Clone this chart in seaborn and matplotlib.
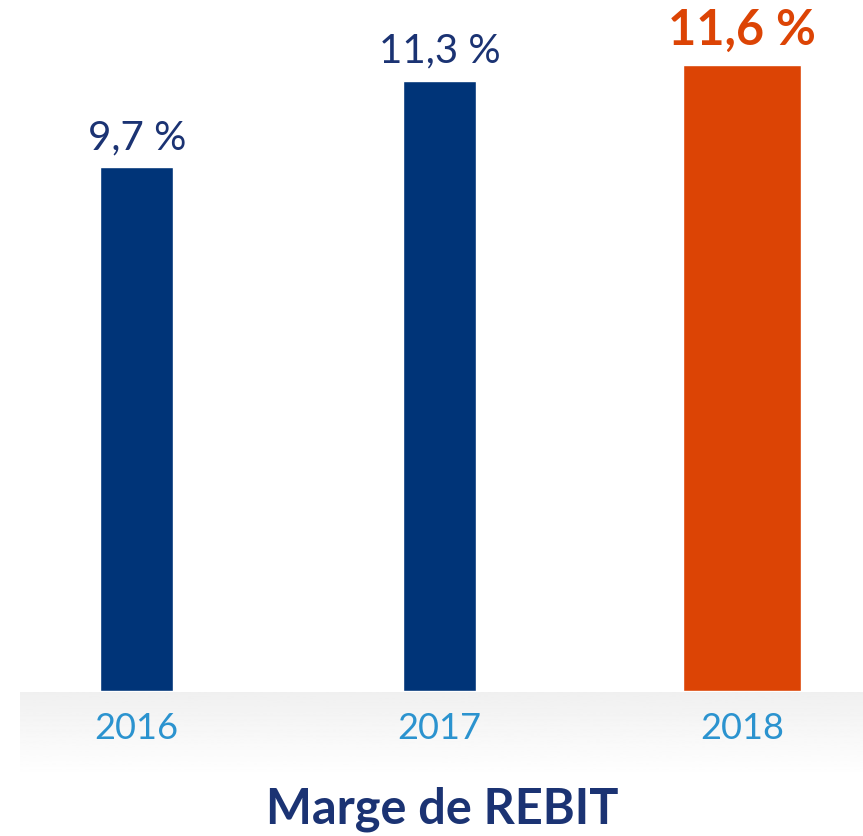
import numpy as np
import pandas as pd
import matplotlib
matplotlib.use("Agg")
import matplotlib.pyplot as plt
import seaborn as sns

years = ["2016", "2017", "2018"]
margins = [9.7, 11.3, 11.6]
value_labels = ["9,7 %", "11,3 %", "11,6 %"]
title = "Marge de REBIT"

NAVY = "#003478"
ORANGE = "#DC4405"
TEXT_NAVY = "#1B3373"
YEAR_BLUE = "#2B93CF"


def draw_chart(df):
    sns.set_style("white")
    plt.rcParams["font.family"] = ["Lato", "DejaVu Sans"]

    fig = plt.figure(figsize=(8.63, 8.36), dpi=100)
    W, H = 863, 836

    # grey gradient band behind the year labels
    band = fig.add_axes([20 / W, (H - 777) / H, (W - 20) / W, 85 / H], zorder=0)
    grad = np.linspace(0.94, 1.0, 100).reshape(-1, 1)
    band.imshow(grad, cmap="gray", vmin=0, vmax=1, aspect="auto")
    band.axis("off")

    ax = fig.add_axes([0, (H - 691) / H, 1, 691 / H], zorder=1)
    ax.patch.set_alpha(0)
    palette = [NAVY, NAVY, ORANGE]
    sns.barplot(data=df, x="year", y="margin", hue="year", palette=palette,
                width=0.24, legend=False, ax=ax, saturation=1)

    # 2018 bar is wider in the original
    p = ax.patches[2]
    cx = p.get_x() + p.get_width() / 2
    p.set_width(0.39)
    p.set_x(cx - 0.39 / 2)

    ax.set_xlim(-0.452, 2.40)
    ax.set_ylim(0, 691 / 54)

    for i, (v, lab) in enumerate(zip(df["margin"], value_labels)):
        last = i == len(df) - 1
        ax.annotate(lab, (i, v), xytext=(0, 13 if not last else 14),
                    textcoords="offset points", ha="center", va="baseline",
                    fontsize=35 if last else 29,
                    fontweight="bold" if last else "normal",
                    color=ORANGE if last else TEXT_NAVY)

    ax.set_xlabel("")
    ax.set_ylabel("")
    ax.set_yticks([])
    ax.tick_params(axis="x", length=0, pad=15, labelsize=26, labelcolor=YEAR_BLUE)
    sns.despine(ax=ax, left=True, bottom=True)

    fig.text(442 / W, (H - 823) / H, title, ha="center", va="baseline",
             fontsize=35, fontweight="bold", color=TEXT_NAVY)

    fig.savefig("out.png", dpi=100)


def main():
    df = pd.DataFrame({"year": years, "margin": margins})
    draw_chart(df)


if __name__ == "__main__":
    main()
